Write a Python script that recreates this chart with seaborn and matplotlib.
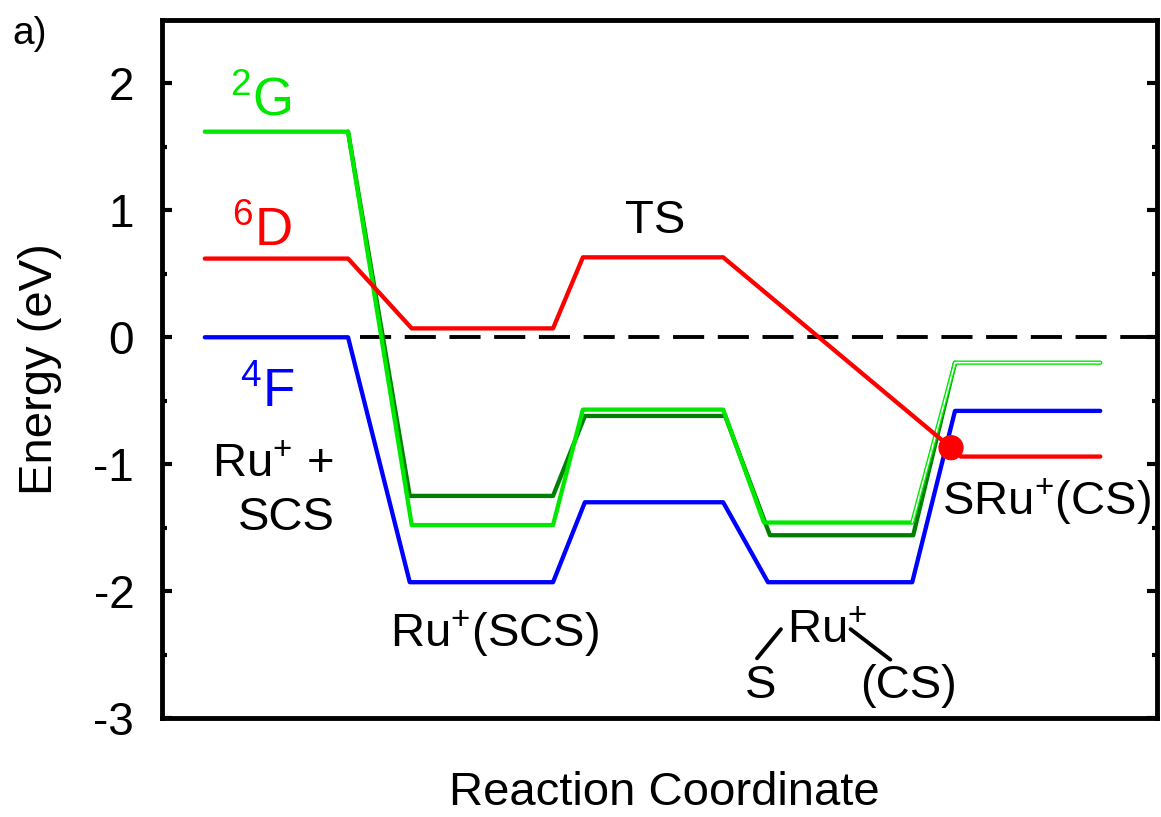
import matplotlib
matplotlib.use("Agg")
import matplotlib.pyplot as plt
import seaborn as sns
import numpy as np
import pandas as pd

# ---- data (reaction coordinate, energy in eV) ----
quartet_x = [0.43, 1.87, 2.49, 3.93, 4.25, 5.64, 6.09, 7.54, 7.97, 9.43]
quartet_E = [0.00, 0.00, -1.93, -1.93, -1.30, -1.30, -1.93, -1.93, -0.58, -0.58]

sextet_x = [0.43, 1.87, 2.51, 3.93, 4.23, 5.64, 7.93, 8.03, 9.43]
sextet_E = [0.62, 0.62, 0.07, 0.07, 0.63, 0.63, -0.87, -0.94, -0.94]

doublet_a_x = [0.43, 1.87, 2.51, 3.93, 4.23, 5.64, 6.05, 7.54, 7.97, 9.43]
doublet_a_E = [1.62, 1.62, -1.48, -1.48, -0.57, -0.57, -1.46, -1.46, -0.20, -0.20]

doublet_b_x = [1.87, 2.49, 3.93, 4.25, 5.66, 6.11, 7.55, 7.97]
doublet_b_E = [1.62, -1.25, -1.25, -0.62, -0.62, -1.56, -1.56, -0.20]

crossing_x = [7.93]
crossing_E = [-0.87]

yticks = [-3, -2, -1, 0, 1, 2]

LIGHT_GREEN = "#00e800"
DARK_GREEN = "#008000"
RED = "#ff0000"
BLUE = "#0000ff"

sns.set_style("white")
plt.rcParams["font.family"] = ["Liberation Sans", "DejaVu Sans"]
plt.rcParams["mathtext.default"] = "regular"
plt.rcParams["text.color"] = "black"
plt.rcParams["axes.labelcolor"] = "black"
plt.rcParams["ytick.color"] = "black"
plt.rcParams["xtick.color"] = "black"
plt.rcParams["ytick.labelcolor"] = "black"

fig = plt.figure(figsize=(11.61, 8.17), dpi=100)
ax = fig.add_axes([162 / 1161, 99 / 817, 995 / 1161, 698 / 817])

lw = 3.1
ax.axhline(0, xmin=0.199, xmax=1.0, color="black", lw=2.8,
           dashes=(8, 3.5), zorder=1)

df_b = pd.DataFrame({"x": doublet_b_x, "E": doublet_b_E})
sns.lineplot(data=df_b, x="x", y="E", sort=False, estimator=None,
             color=DARK_GREEN, lw=lw, ax=ax, zorder=2)

df_q = pd.DataFrame({"x": quartet_x, "E": quartet_E})
sns.lineplot(data=df_q, x="x", y="E", sort=False, estimator=None,
             color=BLUE, lw=lw, ax=ax, zorder=3)

df_a = pd.DataFrame({"x": doublet_a_x, "E": doublet_a_E})
sns.lineplot(data=df_a, x="x", y="E", sort=False, estimator=None,
             color=LIGHT_GREEN, lw=lw, ax=ax, zorder=4)
# hollow look of the last rise / plateau
df_a_tail = df_a.iloc[7:]
sns.lineplot(data=df_a_tail, x="x", y="E", sort=False, estimator=None,
             color="white", lw=1.1, ax=ax, zorder=5)

df_s = pd.DataFrame({"x": sextet_x, "E": sextet_E})
sns.lineplot(data=df_s, x="x", y="E", sort=False, estimator=None,
             color=RED, lw=lw, ax=ax, zorder=6)

sns.scatterplot(x=crossing_x, y=crossing_E, color=RED, s=330,
                edgecolor="none", ax=ax, zorder=7)

ax.set_xlim(0, 10)
ax.set_ylim(-3, 2.5)
ax.set_xticks([])
ax.set_yticks(yticks)
ax.set_yticklabels([str(t) for t in yticks])
ax.set_yticks(np.arange(-2.5, 2.5, 1.0), minor=True)
ax.tick_params(axis="y", which="major", direction="in", length=7, width=3,
               labelsize=33, pad=20, left=True, right=True,
               color="black", labelcolor="black")
ax.tick_params(axis="y", which="minor", direction="in", length=3.5, width=3,
               left=True, right=True, color="black")
for sp in ax.spines.values():
    sp.set_visible(True)
    sp.set_linewidth(3.5)
    sp.set_color("black")

ax.set_xlabel("")
ax.set_ylabel("Energy (eV)", fontsize=34, color="black")
ax.yaxis.set_label_coords(-0.100, 0.5)

fig.text(0.572, 12 / 817, "Reaction Coordinate", fontsize=34,
         ha="center", va="baseline", color="black")
fig.text(12 / 1161, 1 - 44 / 817, "a)", fontsize=28, ha="left",
         va="baseline", color="black")

# state labels
ax.text(0.68, 1.75, r"$^{2}$G", color=LIGHT_GREEN, fontsize=38,
        ha="left", va="baseline")
ax.text(0.70, 0.72, r"$^{6}$D", color=RED, fontsize=38,
        ha="left", va="baseline")
ax.text(0.78, -0.55, r"$^{4}$F", color=BLUE, fontsize=38,
        ha="left", va="baseline")

fs = 34
kw = dict(fontsize=fs, ha="left", va="baseline", color="black")
ax.text(0.50, -1.10, r"Ru$^{+}$ +", **kw)
ax.text(0.76, -1.52, "SCS", **kw)
ax.text(4.65, 0.82, "TS", **kw)
ax.text(2.29, -2.44, r"Ru$^{+}$(SCS)", **kw)
ax.text(7.84, -1.40, r"SRu$^{+}$(CS)", **kw)

ax.text(6.28, -2.41, r"Ru$^{+}$", **kw)
ax.text(5.86, -2.84, "S", **kw)
ax.text(7.02, -2.84, "(CS)", **kw)
ax.plot([5.98, 6.22], [-2.53, -2.30], color="black", lw=2.8,
        solid_capstyle="round")
ax.plot([6.92, 7.32], [-2.30, -2.54], color="black", lw=2.8,
        solid_capstyle="round")

fig.savefig("out.png", dpi=100)
